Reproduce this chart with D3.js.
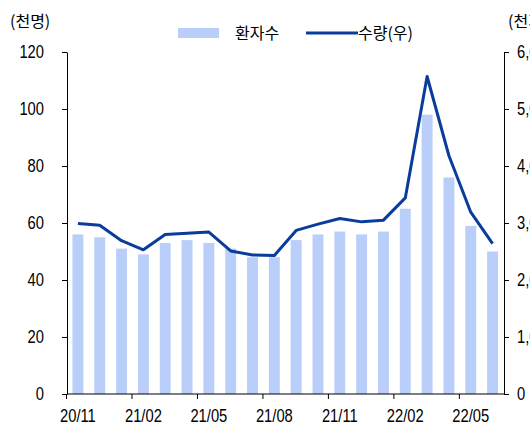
<!DOCTYPE html>
<html>
<head>
<meta charset="utf-8">
<script src="https://cdn.jsdelivr.net/npm/d3@7"></script>
<style>
  body { margin: 0; background: #fff; }
  svg text { fill: #000; }
  .num { font-family: 'Liberation Sans', Arial, sans-serif; transform-box: fill-box; }
  .kr { font-family: 'Noto Sans CJK KR', sans-serif; }
</style>
</head>
<body>
<div class="svg-container"></div>
<script>
// monthly categories and the labelled ones
const months = ['20/11', '20/12', '21/01', '21/02', '21/03', '21/04', '21/05', '21/06', '21/07', '21/08',
  '21/09', '21/10', '21/11', '21/12', '22/01', '22/02', '22/03', '22/04', '22/05', '22/06'];
const tickLabels = ['20/11', '21/02', '21/05', '21/08', '21/11', '22/02', '22/05'];

// 환자수 (천명), left axis
const patients = [56, 55, 51, 49, 53, 54, 53, 51, 48, 48, 54, 56, 57, 56, 57, 65, 98, 76, 59, 50];
// 수량 (천개), right axis
const quantity = [2990, 2960, 2690, 2530, 2800, 2820, 2840, 2510, 2440, 2430,
  2870, 2980, 3080, 3020, 3050, 3440, 5570, 4180, 3190, 2640];

const leftTicks = [0, 20, 40, 60, 80, 100, 120];
const rightTicks = [0, 1000, 2000, 3000, 4000, 5000, 6000];

const width = 530;
const height = 426;
const margin = { top: 52, right: 26, bottom: 32, left: 67 };

const barColor = '#b9cffa';
const lineColor = '#0a3c9c';

// narrow look for the number labels (Arial Narrow is not installed)
const narrow = 0.82;

const svg = d3.select('.svg-container')
  .append('svg')
  .attr('width', width)
  .attr('height', height)

// scales
const x = d3.scaleBand()
  .domain(months)
  .range([margin.left, width - margin.right - 0.5])
  .paddingInner(0.5)
  .paddingOuter(0.25)

const yLeft = d3.scaleLinear()
  .domain([0, 120])
  .range([height - margin.bottom, margin.top])

const yRight = d3.scaleLinear()
  .domain([0, 6000])
  .range([height - margin.bottom, margin.top])

// bars
svg.append('g')
  .selectAll('rect')
  .data(patients)
  .join('rect')
  .attr('x', (d, i) => x(months[i]))
  .attr('y', (d) => yLeft(d))
  .attr('width', x.bandwidth())
  .attr('height', (d) => yLeft(0) - yLeft(d))
  .attr('fill', barColor)

// line
const line = d3.line()
  .x((d, i) => x(months[i]) + x.bandwidth() / 2)
  .y((d) => yRight(d))

svg.append('path')
  .datum(quantity)
  .attr('d', line)
  .attr('fill', 'none')
  .attr('stroke', lineColor)
  .attr('stroke-width', 3)
  .attr('stroke-linejoin', 'round')

// axes
const leftAxis = d3.axisLeft(yLeft)
  .tickValues(leftTicks)
  .tickSize(5)
  .tickSizeOuter(0)
  .tickPadding(18)

const rightAxis = d3.axisRight(yRight)
  .tickValues(rightTicks)
  .tickFormat(d3.format(','))
  .tickSize(5)
  .tickSizeOuter(0)
  .tickPadding(8)

const xAxis = d3.axisBottom(x)
  .tickValues(tickLabels)
  .tickSize(5)
  .tickSizeOuter(0)
  .tickPadding(10)

const gLeft = svg.append('g')
  .attr('transform', `translate(${margin.left}, 0)`)
  .call(leftAxis)

const gRight = svg.append('g')
  .attr('transform', `translate(${width - margin.right}, 0)`)
  .call(rightAxis)

const gX = svg.append('g')
  .attr('transform', `translate(0, ${height - margin.bottom})`)
  .call(xAxis)

// x tick marks sit on the band edges, labels stay centred
gX.selectAll('.tick line')
  .attr('x1', -x.step() / 2 - 0.5)
  .attr('x2', -x.step() / 2 - 0.5)

gX.select('.domain').attr('d', `M${margin.left},0H${width - margin.right}`)

svg.selectAll('.domain, .tick line').attr('stroke', '#000').attr('stroke-width', 1)

svg.selectAll('.tick text')
  .attr('class', 'num')
  .attr('font-size', 18)

gLeft.selectAll('.tick text')
  .style('transform-origin', 'right center')
  .style('transform', `scaleX(${narrow})`)
gRight.selectAll('.tick text')
  .style('transform-origin', 'left center')
  .style('transform', `scaleX(${narrow})`)
gX.selectAll('.tick text')
  .style('transform-origin', 'center')
  .style('transform', `scaleX(${narrow})`)

// unit titles
svg.append('text')
  .attr('class', 'kr')
  .attr('x', 10)
  .attr('y', 27)
  .attr('font-size', 16)
  .text('(천명)')

svg.append('text')
  .attr('class', 'kr')
  .attr('x', 508)
  .attr('y', 27)
  .attr('font-size', 16)
  .text('(천개)')

// legend
const legend = svg.append('g')

legend.append('rect')
  .attr('x', 178)
  .attr('y', 28)
  .attr('width', 41)
  .attr('height', 10)
  .attr('fill', barColor)

legend.append('text')
  .attr('class', 'kr')
  .attr('x', 235)
  .attr('y', 39)
  .attr('font-size', 16)
  .text('환자수')

legend.append('line')
  .attr('x1', 306)
  .attr('x2', 358)
  .attr('y1', 33)
  .attr('y2', 33)
  .attr('stroke', lineColor)
  .attr('stroke-width', 3)

legend.append('text')
  .attr('class', 'kr')
  .attr('x', 358)
  .attr('y', 39)
  .attr('font-size', 16)
  .text('수량(우)')
</script>
</body>
</html>
